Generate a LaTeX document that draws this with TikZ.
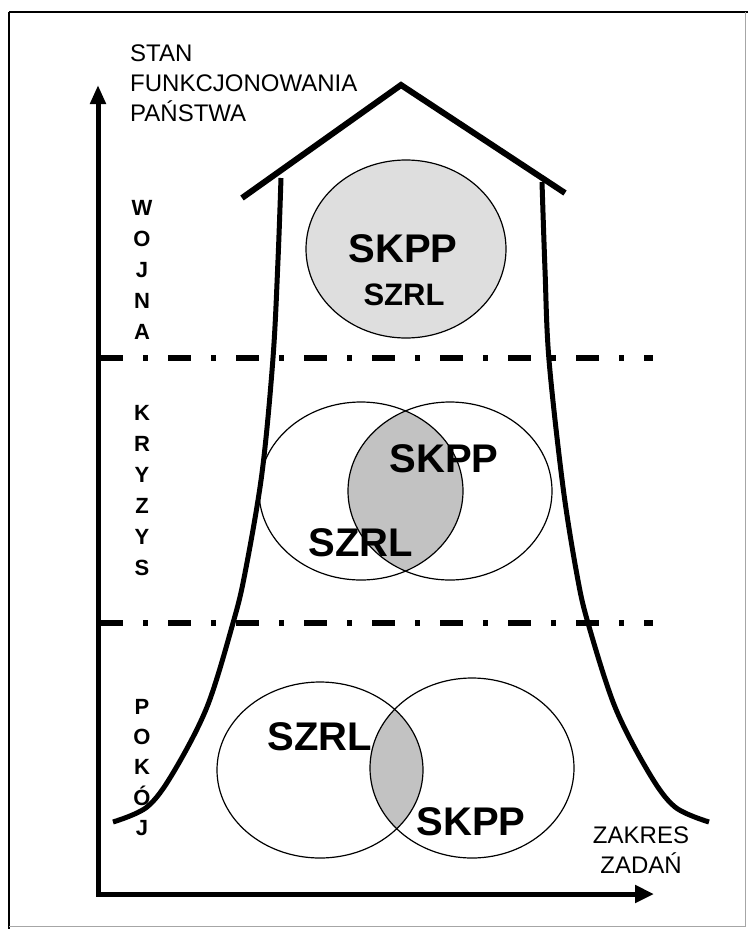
\documentclass[tikz,border=0pt]{standalone}
\usepackage{fontspec}
\setmainfont{Liberation Sans}
\usetikzlibrary{arrows.meta}
\begin{document}
\begin{tikzpicture}[x=1pt,y=-1pt,
  lbl/.style={font=\fontsize{24}{30}\selectfont, inner sep=0pt, anchor=base west},
  axlbl/.style={font=\fontsize{24}{30}\selectfont, inner sep=0pt, anchor=base},
  side/.style={font=\bfseries\fontsize{22}{26}\selectfont, inner sep=0pt, anchor=base},
  big/.style={font=\bfseries\fontsize{40}{44}\selectfont, inner sep=0pt},
  mid/.style={font=\bfseries\fontsize{31}{34}\selectfont, inner sep=0pt},
  heavy/.style={line width=5pt},
  sep/.style={line width=6pt, dash pattern=on 23pt off 20pt on 5pt off 20pt},
  ring/.style={line width=1.2pt},
  lens/.style={fill=black!24},
  topfill/.style={fill=black!13}]
\useasboundingbox (0,0) rectangle (748,929);
% frame
\draw[line width=1.5pt] (9,12) -- (9,929);
\draw[line width=2.5pt] (9,12) -- (748,12);
\draw[line width=0.8pt, black!35] (745,12) -- (745,926) -- (9,926);
% axes
\coordinate (yt) at (98,85);
\coordinate (xt) at (654,894);
\draw[heavy, line join=miter, {Triangle[length=19pt,width=15pt]}-{Triangle[length=19pt,width=17pt]}] (yt) |- (xt);
% axis labels
\node[lbl] (stan) at (130,61) {STAN};
\node[lbl] (funk) at (130,91) {FUNKCJONOWANIA};
\node[lbl] (panstwa) at (130,121) {PAŃSTWA};
\node[axlbl] (zakres) at (641,843) {ZAKRES};
\node[axlbl] (zadan) at (641,873) {ZADAŃ};
% separators
\draw[sep] (100,358) -- (653,358);
\draw[sep] (100,623) -- (653,623);
% roof
\coordinate (rl) at (242,198);
\coordinate (ra) at (401,85);
\coordinate (rr) at (565,193);
\draw[line width=6pt, line join=miter] (rl) -- (ra) -- (rr);
% walls
\draw[heavy] plot[smooth, tension=0.55] coordinates {(281,178) (278,260) (273,358) (262,473) (245,573) (233,623) (207,707) (173,773) (147,807) (113,822)};
\draw[heavy] plot[smooth, tension=0.55] coordinates {(542,182) (545,270) (549,360) (563,487) (577,575) (588,623) (615,707) (649,773) (675,807) (709,822)};
% top circle
\draw[ring, topfill] (406,249) ellipse [x radius=100, y radius=89];
\node[big] (t1) at (403,249) {SKPP};
\node[mid] (t2) at (404,295) {SZRL};
% middle circles
\begin{scope}
  \clip (361,491) ellipse [x radius=102, y radius=89];
  \fill[lens] (450,491) ellipse [x radius=102, y radius=89];
\end{scope}
\draw[ring] (361,491) ellipse [x radius=102, y radius=89];
\draw[ring] (450,491) ellipse [x radius=102, y radius=89];
\node[big] (m1) at (444,459) {SKPP};
\node[big] (m2) at (361,543) {SZRL};
% bottom circles
\begin{scope}
  \clip (320,770) ellipse [x radius=103, y radius=88];
  \fill[lens] (472,768) ellipse [x radius=102, y radius=90];
\end{scope}
\draw[ring] (320,770) ellipse [x radius=103, y radius=88];
\draw[ring] (472,768) ellipse [x radius=102, y radius=90];
\node[big] (b1) at (320,737) {SZRL};
\node[big] (b2) at (471,822) {SKPP};
% side labels
\foreach \l [count=\i] in {W,O,J,N,A}
  \node[side] (w\i) at (142,{215.5+31*(\i-1)}) {\l};
\foreach \l [count=\i] in {K,R,Y,Z,Y,S}
  \node[side] (k\i) at (142,{420.5+31*(\i-1)}) {\l};
\foreach \l [count=\i] in {P,O,K,Ó,J}
  \node[side] (p\i) at (142,{714.5+30.2*(\i-1)}) {\l};
\end{tikzpicture}
\end{document}
